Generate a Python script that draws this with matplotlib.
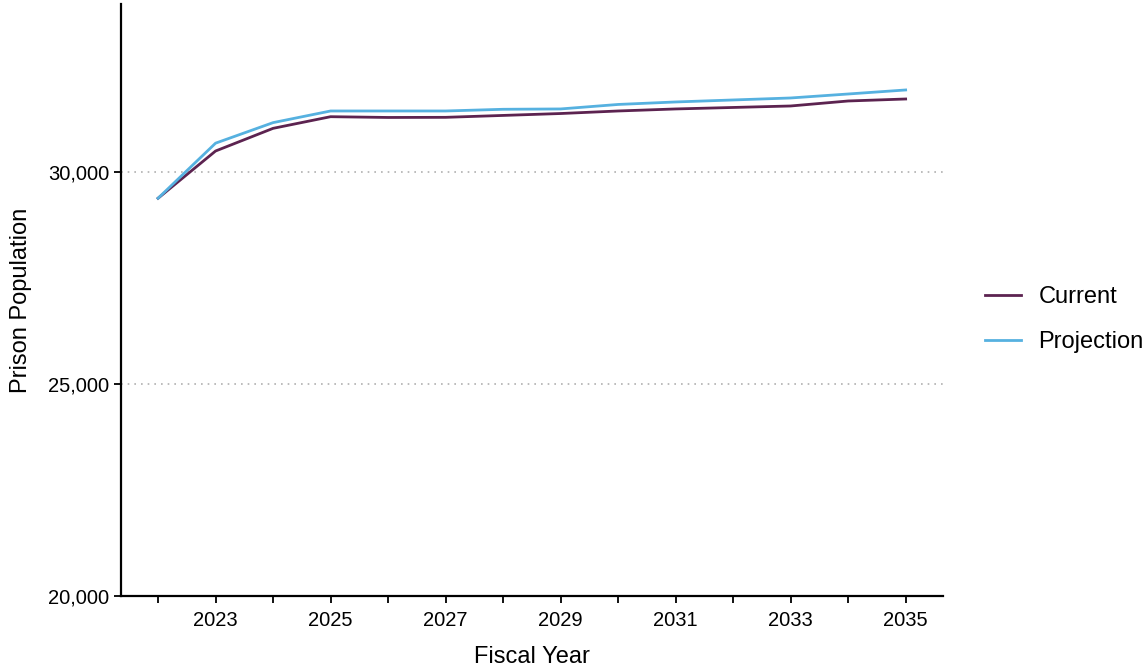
import matplotlib
matplotlib.use("Agg")
import matplotlib.pyplot as plt
from matplotlib.ticker import FuncFormatter

# Data
years = [2022, 2023, 2024, 2025, 2026, 2027, 2028, 2029, 2030, 2031, 2032, 2033, 2034, 2035]
current = [29390, 30505, 31040, 31315, 31297, 31300, 31345, 31390, 31450, 31498, 31533, 31568, 31686, 31733]
projection = [29390, 30690, 31175, 31450, 31450, 31450, 31490, 31498, 31604, 31663, 31710, 31757, 31851, 31946]
series_names = ["Current", "Projection"]
series_colors = ["#5c2350", "#56b1e0"]

plt.rcParams['font.family'] = ['Liberation Sans', 'DejaVu Sans']

fig = plt.figure(figsize=(11.45, 6.71), dpi=100)
ax = fig.add_axes([0.1054, 0.1118, 0.7182, 0.8822])

for vals, name, col in zip([current, projection], series_names, series_colors):
    ax.plot(years, vals, color=col, lw=2.0, label=name)

ax.set_xlim(2021.35, 2035.65)
ax.set_ylim(20000, 33975)

ax.set_yticks([20000, 25000, 30000])
ax.yaxis.set_major_formatter(FuncFormatter(lambda v, p: f"{int(v):,}"))
ax.set_xticks(years)
ax.set_xticklabels([str(y) if y % 2 == 1 else "" for y in years])

ax.grid(axis='y', color='#b0b0b0', linestyle=(0, (1, 3)), lw=1.2)
ax.set_axisbelow(True)

for s in ['top', 'right']:
    ax.spines[s].set_visible(False)
for s in ['left', 'bottom']:
    ax.spines[s].set_linewidth(1.6)
ax.tick_params(axis='both', direction='out', length=5, width=1.3, labelsize=14.5, colors='black')
ax.tick_params(axis='x', pad=6)
ax.tick_params(axis='y', pad=3)

ax.set_xlabel("Fiscal Year", fontsize=17, labelpad=11)
ax.set_ylabel("Prison Population", fontsize=17, labelpad=12)

fig.legend(loc='center left', bbox_to_anchor=(0.842, 0.524), frameon=False,
           fontsize=17, handlelength=1.5, handletextpad=0.75, labelspacing=0.97)

fig.savefig("out.png", dpi=100)
